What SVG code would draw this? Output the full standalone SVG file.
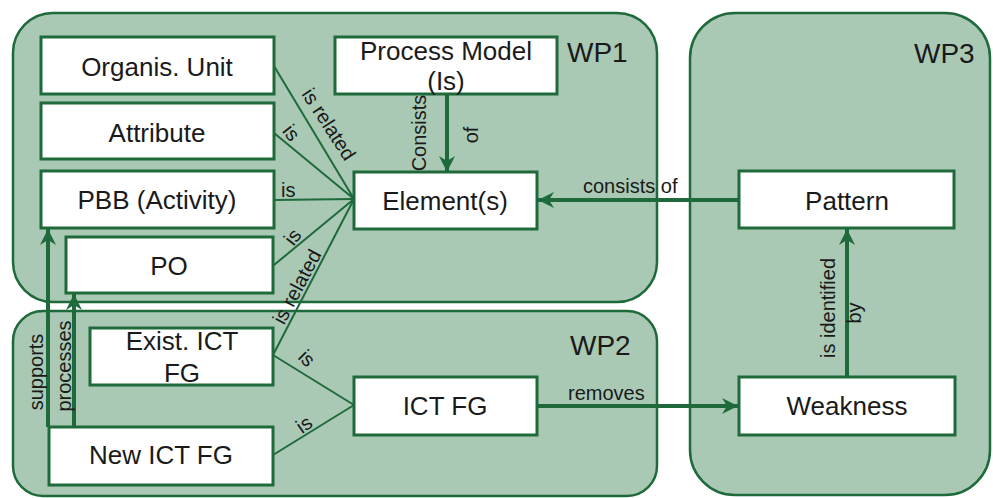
<svg xmlns="http://www.w3.org/2000/svg" width="993" height="498" viewBox="0 0 993 498">
<defs>
<marker id="ah" markerUnits="userSpaceOnUse" markerWidth="18" markerHeight="16" refX="16" refY="8" orient="auto">
<path d="M0,0 L16,8 L0,16 L5,8 z" fill="#1f6a3a"/>
</marker>
<style>
.wp{fill:#a9c9b5;stroke:#1f6a3a;stroke-width:2.5}
.box{fill:#ffffff;stroke:#1f6a3a;stroke-width:3}
.t{font-family:"Liberation Sans",Arial,sans-serif;font-size:26px;fill:#1a1a1a;text-anchor:middle}
.wpt{font-family:"Liberation Sans",Arial,sans-serif;font-size:28px;fill:#1a1a1a}
.thin{stroke:#1f6a3a;stroke-width:2;fill:none}
.thick{stroke:#1f6a3a;stroke-width:4;fill:none;marker-end:url(#ah)}
.l{font-family:"Liberation Sans",Arial,sans-serif;font-size:20px;fill:#1a1a1a}
.lm{font-family:"Liberation Sans",Arial,sans-serif;font-size:20px;fill:#1a1a1a;text-anchor:middle}
</style>
</defs>
<rect width="993" height="498" fill="#ffffff"/>
<g id="WP1"><rect class="wp" x="13" y="13" width="644" height="289" rx="40"/><text class="wpt" x="567" y="62">WP1</text></g>
<g id="WP2"><rect class="wp" x="13" y="311" width="644" height="185" rx="30"/><text class="wpt" x="570" y="355">WP2</text></g>
<g id="WP3"><rect class="wp" x="690" y="13" width="300" height="482" rx="45"/><text class="wpt" x="914" y="63">WP3</text></g>
<g id="connectors">
<line class="thin" x1="274" y1="66" x2="354" y2="199"/>
<line class="thin" x1="274" y1="133" x2="354" y2="199"/>
<line class="thin" x1="274" y1="200" x2="354" y2="199"/>
<line class="thin" x1="274" y1="265" x2="354" y2="199"/>
<line class="thin" x1="273" y1="355" x2="354" y2="199"/>
<line class="thin" x1="273" y1="355" x2="354" y2="405"/>
<line class="thin" x1="273" y1="455" x2="354" y2="405"/>
<line class="thick" x1="447" y1="94" x2="447" y2="172"/>
<line class="thick" x1="739" y1="200" x2="538" y2="200"/>
<line class="thick" x1="537" y1="406" x2="738" y2="406"/>
<line class="thick" x1="847" y1="377" x2="847" y2="229"/>
<line class="thick" x1="48" y1="427" x2="48" y2="229"/>
<line class="thick" x1="74" y1="427" x2="74" y2="294"/>
<text class="lm" transform="translate(323,128) rotate(57)">is related</text>
<text class="lm" transform="translate(286,137) rotate(52)">is</text>
<text class="l" x="281" y="197">is</text>
<text class="lm" transform="translate(298,241) rotate(-52)">is</text>
<text class="lm" transform="translate(303,290) rotate(-62)">is related</text>
<text class="lm" transform="translate(302,363) rotate(45)">is</text>
<text class="lm" transform="translate(308,430) rotate(-35)">is</text>
<text class="lm" transform="translate(426,133) rotate(-90)">Consists</text>
<text class="lm" transform="translate(478,135) rotate(-90)">of</text>
<text class="l" x="583" y="193">consists of</text>
<text class="l" x="568" y="400">removes</text>
<text class="lm" transform="translate(835,308) rotate(-90)">is identified</text>
<text class="lm" transform="translate(861,313) rotate(-90)">by</text>
<text class="lm" transform="translate(43,372) rotate(-90)">supports</text>
<text class="lm" transform="translate(71,366) rotate(-90)">processes</text>
</g>
<g id="organis-unit"><rect class="box" x="41" y="37" width="233" height="57"/><text class="t" x="157" y="76">Organis. Unit</text></g>
<g id="attribute"><rect class="box" x="41" y="103" width="233" height="56"/><text class="t" x="157" y="142">Attribute</text></g>
<g id="pbb"><rect class="box" x="41" y="171" width="233" height="57"/><text class="t" x="157" y="209">PBB (Activity)</text></g>
<g id="po"><rect class="box" x="66" y="237" width="207" height="56"/><text class="t" x="169" y="275">PO</text></g>
<g id="process-model"><rect class="box" x="335" y="37" width="222" height="57"/><text class="t" x="446" y="60">Process Model</text><text class="t" x="446" y="90">(Is)</text></g>
<g id="elements"><rect class="box" x="354" y="172" width="183" height="57"/><text class="t" x="445" y="210">Element(s)</text></g>
<g id="pattern"><rect class="box" x="739" y="171" width="215" height="57"/><text class="t" x="847" y="210">Pattern</text></g>
<g id="exist-ict-fg"><rect class="box" x="90" y="328" width="183" height="57"/><text class="t" x="182" y="350">Exist. ICT</text><text class="t" x="182" y="382">FG</text></g>
<g id="new-ict-fg"><rect class="box" x="49" y="427" width="224" height="58"/><text class="t" x="161" y="464">New ICT FG</text></g>
<g id="ict-fg"><rect class="box" x="354" y="377" width="183" height="58"/><text class="t" x="445" y="415">ICT FG</text></g>
<g id="weakness"><rect class="box" x="739" y="377" width="216" height="58"/><text class="t" x="847" y="415">Weakness</text></g>
</svg>
